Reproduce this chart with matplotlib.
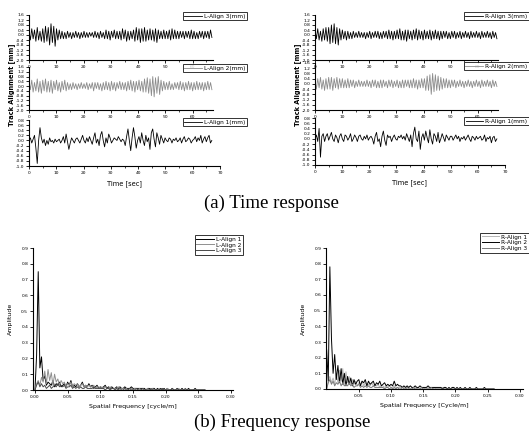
import numpy as np
import matplotlib
matplotlib.use("Agg")
import matplotlib.pyplot as plt
from matplotlib.ticker import MultipleLocator, FormatStrFormatter

# track alignment time histories [mm], sampled every ~0.5 s over 0-67 s
L_align3 = [0.3,-0.4,0.5,-0.3,0.4,-0.5,0.6,-0.4,0.3,-0.5,
            0.5,-0.6,0.7,-0.5,0.6,-0.8,0.9,-0.6,0.7,-0.9,
            0.5,-0.4,0.4,-0.3,0.3,-0.3,0.2,-0.3,0.3,-0.2,
            0.2,-0.3,0.2,-0.2,0.3,-0.2,0.2,-0.3,0.2,-0.2,
            0.3,-0.2,0.2,-0.2,0.2,-0.1,0.2,-0.2,0.3,-0.2,
            0.2,-0.3,0.3,-0.2,0.2,-0.3,0.4,-0.3,0.3,-0.4,
            0.3,-0.2,0.4,-0.3,0.3,-0.3,0.3,-0.4,0.5,-0.3,
            0.4,-0.5,0.3,-0.4,0.3,-0.3,0.4,-0.5,0.6,-0.4,
            0.5,-0.6,0.5,-0.5,0.6,-0.5,0.4,-0.4,0.5,-0.4,
            0.4,-0.5,0.5,-0.6,0.4,-0.3,0.3,-0.3,0.4,-0.3,
            0.3,-0.3,0.4,-0.4,0.5,-0.3,0.4,-0.3,0.3,-0.3,
            0.3,-0.2,0.3,-0.3,0.3,-0.2,0.3,-0.3,0.4,-0.3,
            0.3,-0.3,0.2,-0.3,0.3,-0.2,0.3,-0.3,0.3,-0.2,
            0.3,-0.3,0.4,-0.2]
L_align2 = [0.4,-0.3,0.5,-0.5,0.3,-0.4,0.6,-0.5,0.4,-0.6,
            0.5,-0.4,0.6,-0.5,0.4,-0.5,0.5,-0.6,0.4,-0.3,
            0.5,-0.4,0.3,-0.5,0.4,-0.3,0.5,-0.4,0.3,-0.3,
            0.2,-0.3,0.3,-0.2,0.2,-0.3,0.2,-0.2,0.3,-0.2,
            0.2,-0.2,0.3,-0.3,0.2,-0.2,0.3,-0.4,0.3,-0.2,
            0.3,-0.3,0.2,-0.4,0.3,-0.3,0.4,-0.3,0.3,-0.4,
            0.4,-0.3,0.3,-0.4,0.3,-0.2,0.4,-0.3,0.3,-0.3,
            0.3,-0.4,0.4,-0.3,0.5,-0.4,0.4,-0.5,0.4,-0.3,
            0.5,-0.4,0.4,-0.5,0.6,-0.5,0.7,-0.6,0.6,-0.8,
            0.8,-0.9,0.7,-0.6,0.8,-0.7,0.5,-0.4,0.4,-0.3,
            0.3,-0.3,0.4,-0.3,0.2,-0.3,0.3,-0.2,0.3,-0.3,
            0.4,-0.3,0.3,-0.4,0.3,-0.3,0.4,-0.3,0.3,-0.4,
            0.3,-0.3,0.4,-0.3,0.3,-0.3,0.3,-0.4,0.3,-0.3,
            0.4,-0.3,0.3,-0.3]
L_align1 = [0.0,0.1,-0.1,0.05,0.2,-0.3,-0.9,0.0,0.5,0.1,
            -0.1,0.05,-0.2,0.0,-0.15,0.1,-0.05,0.0,-0.1,0.05,
            -0.05,0.0,0.05,-0.1,0.0,0.15,-0.1,0.25,-0.05,-0.35,
            -0.1,0.1,0.0,-0.1,0.05,0.1,0.0,-0.1,0.05,0.2,
            0.0,-0.1,0.1,-0.05,0.15,0.0,-0.15,0.1,0.3,-0.1,
            0.05,-0.2,0.2,0.35,0.0,-0.25,0.1,-0.1,0.25,0.1,
            -0.1,0.0,0.1,0.05,0.0,0.15,0.05,-0.05,0.05,0.0,
            -0.2,0.15,0.45,0.0,-0.4,0.1,0.5,0.15,-0.3,0.0,
            0.15,-0.1,0.3,0.0,-0.2,0.2,-0.05,0.1,-0.35,0.3,
            0.45,0.05,-0.25,0.3,0.1,-0.15,0.2,0.05,-0.1,0.1,
            0.0,-0.05,0.1,0.05,-0.1,0.05,0.0,0.1,-0.05,0.0,
            0.1,-0.1,0.05,0.15,-0.05,0.0,0.1,0.05,-0.1,0.0,
            0.05,0.15,-0.05,0.1,0.0,0.2,-0.1,0.05,0.15,-0.05,
            0.1,0.2,-0.1,0.0]

R_align3 = [0.4,-0.3,0.5,-0.4,0.3,-0.5,0.5,-0.4,0.6,-0.5,
            0.6,-0.7,0.8,-0.6,0.9,-0.7,0.6,-0.8,0.5,-0.4,
            0.4,-0.3,0.3,-0.4,0.3,-0.3,0.2,-0.3,0.3,-0.2,
            0.2,-0.2,0.3,-0.2,0.2,-0.2,0.2,-0.3,0.2,-0.2,
            0.3,-0.3,0.2,-0.2,0.3,-0.2,0.3,-0.3,0.2,-0.3,
            0.3,-0.2,0.3,-0.3,0.4,-0.3,0.3,-0.4,0.3,-0.3,
            0.4,-0.3,0.5,-0.4,0.3,-0.4,0.4,-0.5,0.4,-0.3,
            0.3,-0.4,0.4,-0.3,0.5,-0.4,0.4,-0.3,0.3,-0.4,
            0.4,-0.3,0.3,-0.3,0.4,-0.4,0.3,-0.3,0.4,-0.3,
            0.3,-0.4,0.3,-0.3,0.3,-0.2,0.3,-0.3,0.2,-0.3,
            0.3,-0.2,0.3,-0.3,0.2,-0.2,0.3,-0.3,0.2,-0.2,
            0.3,-0.2,0.2,-0.3,0.3,-0.2,0.2,-0.2,0.3,-0.2,
            0.2,-0.3,0.3,-0.2,0.2,-0.2,0.3,-0.2,0.2,-0.3,
            0.3,-0.2,0.2,-0.3]
R_align2 = [0.3,-0.4,0.4,-0.3,0.5,-0.4,0.3,-0.5,0.4,-0.4,
            0.5,-0.4,0.5,-0.5,0.4,-0.3,0.5,-0.4,0.4,-0.3,
            0.4,-0.3,0.3,-0.3,0.4,-0.3,0.3,-0.2,0.3,-0.3,
            0.2,-0.2,0.3,-0.2,0.2,-0.2,0.2,-0.2,0.3,-0.2,
            0.2,-0.3,0.3,-0.2,0.3,-0.3,0.2,-0.3,0.3,-0.3,
            0.3,-0.2,0.2,-0.3,0.3,-0.2,0.3,-0.3,0.2,-0.2,
            0.3,-0.3,0.2,-0.3,0.3,-0.3,0.3,-0.2,0.3,-0.3,
            0.3,-0.3,0.4,-0.3,0.3,-0.4,0.3,-0.3,0.4,-0.3,
            0.4,-0.5,0.6,-0.5,0.7,-0.8,0.8,-0.6,0.7,-0.5,
            0.6,-0.5,0.5,-0.4,0.4,-0.3,0.4,-0.3,0.3,-0.3,
            0.3,-0.2,0.3,-0.3,0.2,-0.2,0.3,-0.2,0.2,-0.3,
            0.2,-0.2,0.3,-0.2,0.2,-0.3,0.2,-0.2,0.3,-0.2,
            0.2,-0.3,0.3,-0.2,0.2,-0.2,0.3,-0.2,0.2,-0.3,
            0.3,-0.2,0.2,-0.2]
R_align1 = [0.0,0.15,-0.1,0.4,-0.7,0.1,0.2,-0.1,0.1,0.2,
            -0.05,0.1,0.25,0.0,-0.1,0.15,0.05,-0.15,0.1,0.2,
            0.0,-0.1,0.15,0.1,-0.05,0.05,0.2,-0.1,0.0,0.15,
            0.05,-0.1,0.1,0.15,0.0,-0.05,0.1,0.0,0.15,-0.05,
            0.05,0.1,0.0,-0.2,0.1,0.25,-0.1,0.0,-0.3,0.1,
            0.3,-0.05,-0.25,0.15,0.05,0.1,-0.1,0.05,0.15,0.0,
            -0.05,0.1,0.05,0.15,0.0,0.1,-0.05,0.2,0.05,-0.1,
            0.15,-0.3,0.2,0.45,0.0,-0.1,0.3,-0.4,0.05,0.2,
            -0.05,0.3,0.05,-0.15,0.35,0.0,-0.2,0.2,0.1,-0.1,
            0.25,-0.15,0.0,0.2,0.05,-0.1,0.15,0.05,-0.05,0.1,
            0.1,-0.05,0.05,0.15,0.0,0.1,-0.1,0.05,0.0,0.1,
            -0.05,0.05,0.15,0.0,-0.1,0.1,0.05,-0.05,0.1,0.0,
            0.05,0.1,-0.05,0.0,0.15,-0.1,0.05,0.0,0.1,-0.15,
            0.05,0.1,-0.1,0.0]

# amplitude spectra, one value per 0.0025 cycle/m bin
L_amp1 = [0.0,0.22,0.75,0.14,0.21,0.06,0.09,0.03,0.05,0.04,0.03,0.06,0.02,0.04,0.03,0.05,0.02,0.03,0.04,0.02,
          0.05,0.03,0.06,0.02,0.03,0.02,0.04,0.02,0.03,0.05,0.02,0.03,0.02,0.04,0.02,0.03,0.01,0.02,0.03,0.01,
          0.02,0.01,0.02,0.03,0.01,0.02,0.01,0.02,0.01,0.01,0.02,0.01,0.02,0.01,0.01,0.02,0.01,0.01,0.01,0.02,
          0.01,0.01,0.01,0.01,0.01,0.01,0.01,0.01,0.0,0.01,0.01,0.0,0.01,0.01,0.0,0.01,0.0,0.01,0.0,0.01,
          0.0,0.01,0.0,0.0,0.01,0.0,0.0,0.01,0.0,0.0,0.01,0.0,0.0,0.0,0.01,0.0,0.0,0.0,0.01,0.0,
          0.0,0.0,0.0,0.0,0.0]
L_amp2 = [0.0,0.04,0.06,0.03,0.08,0.05,0.12,0.04,0.13,0.06,0.11,0.03,0.10,0.05,0.07,0.03,0.06,0.04,0.05,0.02,
          0.04,0.03,0.05,0.02,0.04,0.03,0.04,0.02,0.03,0.04,0.02,0.03,0.02,0.03,0.02,0.02,0.03,0.01,0.02,0.02,
          0.01,0.02,0.01,0.02,0.01,0.01,0.02,0.01,0.01,0.01,0.01,0.02,0.01,0.01,0.01,0.01,0.01,0.0,0.01,0.01,
          0.0,0.01,0.01,0.0,0.01,0.0,0.01,0.0,0.0,0.01,0.0,0.0,0.01,0.0,0.0,0.0,0.01,0.0,0.0,0.0,
          0.0,0.01,0.0,0.0,0.0,0.0,0.0,0.0,0.01,0.0,0.0,0.0,0.0,0.0,0.0,0.0,0.0,0.0,0.0,0.0,
          0.0,0.0,0.0,0.0,0.0]
L_amp3 = [0.0,0.03,0.05,0.02,0.04,0.02,0.03,0.01,0.02,0.03,0.01,0.02,0.03,0.02,0.04,0.02,0.03,0.02,0.03,0.01,
          0.02,0.02,0.03,0.01,0.02,0.01,0.02,0.01,0.02,0.01,0.01,0.02,0.01,0.01,0.01,0.01,0.02,0.01,0.01,0.01,
          0.01,0.01,0.01,0.0,0.01,0.01,0.0,0.01,0.01,0.0,0.01,0.0,0.01,0.0,0.0,0.01,0.0,0.0,0.01,0.0,
          0.0,0.0,0.01,0.0,0.0,0.0,0.01,0.0,0.0,0.0,0.0,0.01,0.0,0.0,0.0,0.0,0.0,0.0,0.01,0.0,
          0.0,0.0,0.0,0.0,0.01,0.0,0.0,0.0,0.0,0.0,0.0,0.0,0.01,0.0,0.0,0.0,0.0,0.0,0.0,0.0,
          0.0,0.0,0.0,0.0,0.0]

R_amp1 = [0.0,0.05,0.08,0.04,0.07,0.03,0.10,0.04,0.12,0.05,0.13,0.03,0.11,0.04,0.08,0.03,0.06,0.03,0.05,0.02,
          0.04,0.03,0.05,0.02,0.04,0.02,0.03,0.02,0.04,0.02,0.03,0.02,0.03,0.01,0.02,0.02,0.01,0.02,0.01,0.02,
          0.01,0.01,0.02,0.01,0.01,0.01,0.01,0.01,0.01,0.0,0.01,0.01,0.0,0.01,0.0,0.01,0.0,0.01,0.0,0.0,
          0.01,0.0,0.0,0.01,0.0,0.0,0.0,0.01,0.0,0.0,0.0,0.0,0.01,0.0,0.0,0.0,0.0,0.0,0.0,0.0,
          0.0,0.0,0.0,0.0,0.0,0.0,0.0,0.0,0.0,0.0,0.0,0.0,0.0,0.0,0.0,0.0,0.0,0.0,0.0,0.0,
          0.0,0.0,0.0,0.0,0.0]
R_amp2 = [0.25,0.05,0.78,0.32,0.10,0.22,0.06,0.15,0.04,0.13,0.03,0.10,0.02,0.08,0.03,0.07,0.02,0.06,0.03,0.05,
          0.06,0.02,0.05,0.04,0.06,0.02,0.05,0.03,0.04,0.05,0.02,0.04,0.03,0.05,0.02,0.03,0.04,0.02,0.03,0.02,
          0.03,0.02,0.05,0.02,0.03,0.02,0.02,0.01,0.02,0.01,0.02,0.01,0.02,0.01,0.01,0.02,0.01,0.01,0.02,0.01,
          0.01,0.01,0.01,0.02,0.01,0.01,0.01,0.01,0.01,0.01,0.01,0.01,0.0,0.01,0.01,0.0,0.01,0.0,0.01,0.01,
          0.0,0.01,0.0,0.01,0.0,0.0,0.01,0.0,0.0,0.01,0.0,0.0,0.0,0.01,0.0,0.0,0.0,0.0,0.01,0.0,
          0.0,0.0,0.0,0.0,0.0]
R_amp3 = [0.0,0.04,0.06,0.03,0.05,0.02,0.04,0.03,0.05,0.02,0.04,0.02,0.03,0.02,0.04,0.02,0.03,0.01,0.02,0.02,
          0.03,0.01,0.02,0.01,0.02,0.01,0.02,0.01,0.01,0.02,0.01,0.01,0.01,0.01,0.01,0.01,0.0,0.01,0.01,0.0,
          0.01,0.0,0.01,0.0,0.01,0.0,0.0,0.01,0.0,0.0,0.01,0.0,0.0,0.0,0.01,0.0,0.0,0.0,0.0,0.01,
          0.0,0.0,0.0,0.0,0.0,0.01,0.0,0.0,0.0,0.0,0.0,0.0,0.0,0.0,0.0,0.0,0.0,0.0,0.0,0.0,
          0.0,0.0,0.0,0.0,0.0,0.0,0.0,0.0,0.0,0.0,0.0,0.0,0.0,0.0,0.0,0.0,0.0,0.0,0.0,0.0,
          0.0,0.0,0.0,0.0,0.0]

W, H = 529, 443
fig = plt.figure(figsize=(W / 100, H / 100), dpi=100)
plt.rcParams['font.family'] = 'DejaVu Sans'
TICK = 3.2


def ax_at(x0, y0, x1, y1):
    # pixel box -> figure fraction
    return fig.add_axes([x0 / W, 1 - y1 / H, (x1 - x0) / W, (y1 - y0) / H])


def style(ax):
    ax.spines['top'].set_visible(False)
    ax.spines['right'].set_visible(False)
    for s in ('left', 'bottom'):
        ax.spines[s].set_linewidth(0.8)
    ax.tick_params(labelsize=TICK, length=2, width=0.6, pad=1.5)
    ax.tick_params(which='minor', length=1.2, width=0.5)
    ax.set_facecolor('none')


def time_panel(box, t_end, series, label, color, big, leg_xy):
    ax = ax_at(*box)
    t = np.linspace(0, 67, len(series))
    ax.plot(t, series, color=color, lw=0.6, label=label)
    ax.set_xlim(0, t_end)
    if big:
        ax.set_ylim(-1.0, 0.8)
        ax.yaxis.set_major_locator(MultipleLocator(0.2))
    else:
        ax.set_ylim(-2.0, 1.6)
        ax.yaxis.set_major_locator(MultipleLocator(0.4))
    ax.yaxis.set_major_formatter(FormatStrFormatter('%.1f'))
    ax.xaxis.set_major_locator(MultipleLocator(10))
    ax.xaxis.set_minor_locator(MultipleLocator(5))
    style(ax)
    leg = ax.legend(loc='upper right', bbox_to_anchor=(leg_xy[0] / W, 1 - leg_xy[1] / H),
                    bbox_transform=fig.transFigure, fontsize=4.2, frameon=True,
                    fancybox=False, borderpad=0.25, handlelength=3.0, handletextpad=0.4,
                    borderaxespad=0)
    leg.get_frame().set_edgecolor('black')
    leg.get_frame().set_linewidth(0.7)
    return ax


# (a) time response, left: L-Align, right: R-Align
time_panel((29, 15, 213, 60), 67.4, L_align3, 'L-Align 3(mm)', 'black', False, (247, 12))
time_panel((29, 67, 213, 110), 67.4, L_align2, 'L-Align 2(mm)', '#8c8c8c', False, (247, 64))
ax = time_panel((29, 120, 220, 166), 70, L_align1, 'L-Align 1(mm)', 'black', True, (247, 118))
ax.set_xlabel('Time [sec]', fontsize=4.8, labelpad=4)

time_panel((315, 15, 498, 60), 67.4, R_align3, 'R-Align 3(mm)', 'black', False, (529, 12))
time_panel((315, 63, 498, 110), 67.4, R_align2, 'R-Align 2(mm)', '#8c8c8c', False, (529, 62))
ax = time_panel((315, 118, 505, 165), 70, R_align1, 'R-Align 1(mm)', 'black', True, (529, 117))
ax.set_xlabel('Time [sec]', fontsize=4.8, labelpad=4)

fig.text(12 / W, 1 - 85 / H, 'Track Alignment [mm]', rotation=90, fontsize=4.8,
         fontweight='bold', ha='center', va='center')
fig.text(298 / W, 1 - 85 / H, 'Track Alignment [mm]', rotation=90, fontsize=4.8,
         fontweight='bold', ha='center', va='center')


def freq_panel(box, xlim, amps, labels, colors, xlabel, leg_xy, skip0):
    ax = ax_at(*box)
    f = np.arange(len(amps[0])) * 0.0025
    for a, lb, c in zip(amps, labels, colors):
        ax.plot(f, a, color=c, lw=0.7, label=lb)
    ax.set_xlim(*xlim)
    ax.set_ylim(0, 0.9)
    ax.yaxis.set_major_locator(MultipleLocator(0.1))
    ax.yaxis.set_major_formatter(FormatStrFormatter('%.1f'))
    ticks = [0.05, 0.10, 0.15, 0.20, 0.25, 0.30] if skip0 else [0.0, 0.05, 0.10, 0.15, 0.20, 0.25, 0.30]
    ax.set_xticks(ticks)
    ax.xaxis.set_major_formatter(FormatStrFormatter('%.2f'))
    style(ax)
    ax.set_xlabel(xlabel, fontsize=4.5, labelpad=4)
    ax.set_ylabel('Amplitude', fontsize=4.5, labelpad=6)
    leg = ax.legend(loc='upper right', bbox_to_anchor=(leg_xy[0] / W, 1 - leg_xy[1] / H),
                    bbox_transform=fig.transFigure, fontsize=4.2, frameon=True,
                    fancybox=False, borderpad=0.25, handlelength=3.0, handletextpad=0.4,
                    labelspacing=0.15, borderaxespad=0)
    leg.get_frame().set_edgecolor('black')
    leg.get_frame().set_linewidth(0.7)
    return ax


# (b) frequency response
freq_panel((33, 248, 233, 390), (-0.003, 0.303), [L_amp1, L_amp2, L_amp3],
           ['L-Align 1', 'L-Align 2', 'L-Align 3'], ['black', '#8f8f8f', '#4a4a4a'],
           'Spatial Frequency [cycle/m]', (243, 235), False)
freq_panel((326, 248, 523, 389), (-0.001, 0.305), [R_amp1, R_amp2, R_amp3],
           ['R-Align 1', 'R-Align 2', 'R-Align 3'], ['#b5b5b5', 'black', '#7a7a7a'],
           'Spatial Frequency [Cycle/m]', (529, 233), True)

fig.text(271 / W, 1 - 203 / H, '(a) Time response', family='Liberation Serif',
         fontsize=13.5, ha='center', va='center')
fig.text(282 / W, 1 - 422 / H, '(b) Frequency response', family='Liberation Serif',
         fontsize=13.5, ha='center', va='center')

fig.savefig('out.png', dpi=100, facecolor='white')
